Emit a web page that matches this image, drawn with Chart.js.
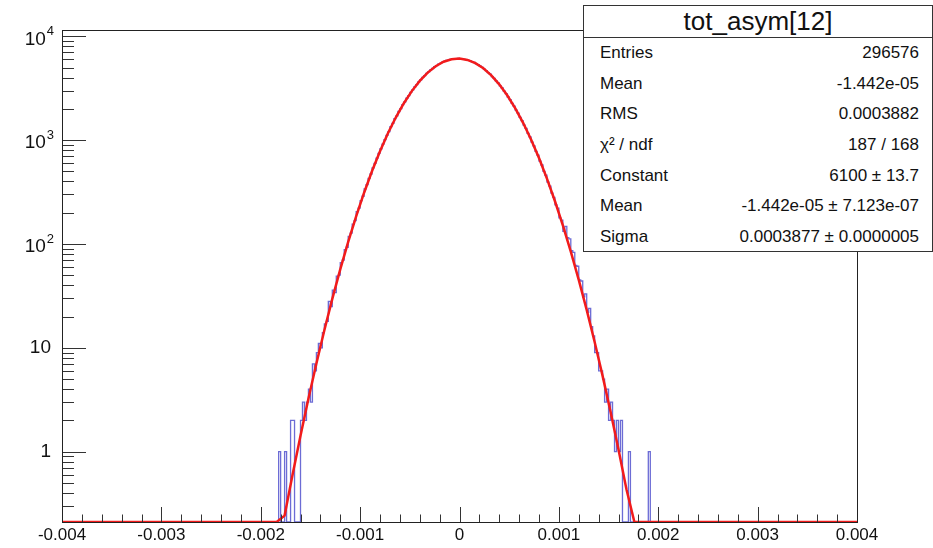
<!DOCTYPE html>
<html>
<head>
<meta charset="utf-8">
<script src="https://cdn.jsdelivr.net/npm/chart.js@4.4.1/dist/chart.umd.min.js"></script>
<style>
html,body{margin:0;padding:0;background:#fff;}
#wrap{position:relative;width:933px;height:548px;overflow:hidden;background:#fff;}
#c{position:absolute;left:0;top:0;}
#stats{position:absolute;left:583px;top:5px;width:350px;height:247px;box-sizing:border-box;border:1.5px solid #333;background:#fff;font-family:"Liberation Sans",Arial,Helvetica,sans-serif;color:#111;}
#stats .title{height:31px;line-height:31px;font-size:26px;text-align:center;border-bottom:1.5px solid #333;}
#stats .row{height:30.6px;display:flex;justify-content:space-between;align-items:center;padding:0 13px 0 16px;font-size:17px;}
</style>
</head>
<body>
<div id="wrap">
<canvas id="c" width="933" height="548"></canvas>
<div id="stats"></div>
</div>
<script>
// ---------------- data ----------------
const histXMin = -0.004;
const histXMax = 0.004;
const nBins = 400;
// bin contents (400 bins, width 2e-5)
const counts = [
  0,0,0,0,0,0,0,0,0,0, 0,0,0,0,0,0,0,0,0,0,
  0,0,0,0,0,0,0,0,0,0, 0,0,0,0,0,0,0,0,0,0,
  0,0,0,0,0,0,0,0,0,0, 0,0,0,0,0,0,0,0,0,0,
  0,0,0,0,0,0,0,0,0,0, 0,0,0,0,0,0,0,0,0,0,
  0,0,0,0,0,0,0,0,0,0, 0,0,0,0,0,0,0,0,0,0,
  0,0,0,0,0,0,0,0,0,
  1,0,0,1,0,0,2,2,0,0,
  0,2,3,2,3,4,3,7,6,9,
  11,10,14,17,18,28,25,36,34,49,
  50,66,70,88,93,118,127,155,168,205,
  221,262,288,339,372,428,472,540,596,670,
  745,826,914,1010,1112,1208,1352,1447,1608,1716,
  1886,2015,2197,2338,2531,2683,2890,3046,3262,3421,
  3641,3803,4024,4181,4398,4547,4757,4895,5090,5212,
  5390,5491,5645,5724,5852,5903,6001,6024,6091,6082,
  6115,6075,6078,6003,5972,5870,5811,5678,5592,5433,
  5325,5145,5018,4820,4679,4468,4315,4097,3938,3716,
  3555,3337,3178,2962,2810,2603,2458,2262,2127,1945,
  1822,1655,1544,1393,1296,1161,1074,956,882,779,
  716,628,576,501,459,394,361,309,281,238,
  221,178,170,132,148,115,112,86,83,62,
  61,45,44,31,33,22,24,16,13,9,
  9,6,6,5,3,4,2,3,2,1,
  2,1,2,0,0,0,1,0,0,0,
  0,0,0,0,0,0,1,
  0,0,0,0,0,0,0,0,0,0, 0,0,0,0,0,0,0,0,0,0,
  0,0,0,0,0,0,0,0,0,0, 0,0,0,0,0,0,0,0,0,0,
  0,0,0,0,0,0,0,0,0,0, 0,0,0,0,0,0,0,0,0,0,
  0,0,0,0,0,0,0,0,0,0, 0,0,0,0,0,0,0,0,0,0,
  0,0,0,0,0,0,0,0,0,0, 0,0,0,0,0,0,0,0,0,0,
  0,0,0,0
];

// Gaussian fit curve (red), sampled points
const fitX = [-0.004, -0.00184, -0.00176, -0.00168, -0.0016, -0.00152, -0.00144, -0.00136, -0.00128, -0.0012,
  -0.00112, -0.00104, -0.00096, -0.00088, -0.0008, -0.00072, -0.00064, -0.00056, -0.00048, -0.0004,
  -0.00032, -0.00024, -0.00016, -0.00008, 0, 0.00008, 0.00016, 0.00024, 0.00032, 0.0004,
  0.00048, 0.00056, 0.00064, 0.00072, 0.0008, 0.00088, 0.00096, 0.00104, 0.00112, 0.0012,
  0.00128, 0.00136, 0.00144, 0.00152, 0.0016, 0.00168, 0.00176, 0.004];
const fitY = [0, 0.0935, 0.242, 0.599, 1.424, 3.241, 7.07, 14.78, 29.61, 56.85,
  104.6, 184.4, 311.6, 504.6, 783.0, 1164.5, 1659.5, 2266.3, 2966.1, 3720.1,
  4471.1, 5150.0, 5684.8, 6013.4, 6095.8, 5921.7, 5512.9, 4918.4, 4204.9, 3445.2,
  2705.0, 2035.4, 1467.7, 1014.2, 671.6, 426.2, 259.2, 151.1, 84.37, 45.16,
  23.16, 11.38, 5.363, 2.421, 1.047, 0.434, 0.1725, 0];

const xTickValues = [-0.004, -0.003, -0.002, -0.001, 0, 0.001, 0.002, 0.003, 0.004];
const xTickLabels = ['-0.004', '-0.003', '-0.002', '-0.001', '0', '0.001', '0.002', '0.003', '0.004'];
const yTickValues = [1, 10, 100, 1000, 10000];
const yTickLabels = ['1', '10', '10^2', '10^3', '10^4'];
const yAxisMin = 0.21;
const yAxisMax = 11500;
const xMinorStep = 0.0002;

const statsTitle = 'tot_asym[12]';
const statLabels = ['Entries', 'Mean', 'RMS', 'χ² / ndf', 'Constant', 'Mean', 'Sigma'];
const statValues = ['296576', '-1.442e-05', '0.0003882', '187 / 168', '6100 ± 13.7', '-1.442e-05 ± 7.123e-07', '0.0003877 ± 0.0000005'];

// ---------------- stats box ----------------
const sb = document.getElementById('stats');
const t = document.createElement('div'); t.className = 'title'; t.textContent = statsTitle; sb.appendChild(t);
statLabels.forEach((l, i) => {
  const r = document.createElement('div'); r.className = 'row';
  const a = document.createElement('span'); a.textContent = l;
  const b = document.createElement('span'); b.textContent = statValues[i];
  r.appendChild(a); r.appendChild(b); sb.appendChild(r);
});

// ---------------- chart ----------------
const FONT = '"Liberation Sans", Arial, Helvetica, sans-serif';
// ROOT draws values below the axis floor on the floor
const clampY = v => Math.max(v, yAxisMin);
const binW = (histXMax - histXMin) / nBins;
const histPts = counts.map((c, i) => ({x: histXMin + i * binW, y: clampY(c)}));
histPts.push({x: histXMax, y: clampY(counts[nBins - 1])});
const fitPts = fitX.map((x, i) => ({x: x, y: clampY(fitY[i])}));

const rootAxes = {
  id: 'rootAxes',
  afterDatasetsDraw(chart) {
    const {ctx, chartArea: a} = chart;
    const xs = chart.scales.x, ys = chart.scales.y;
    ctx.save();
    ctx.strokeStyle = '#333';
    ctx.lineWidth = 1;
    ctx.beginPath();
    const nMinor = Math.round((xs.max - xs.min) / xMinorStep);
    for (let k = 0; k <= nMinor; k++) {
      const v = xs.min + k * xMinorStep;
      const px = Math.round(xs.getPixelForValue(v)) + 0.5;
      const len = (k % 5 === 0) ? 15 : 7.5;
      ctx.moveTo(px, a.bottom); ctx.lineTo(px, a.bottom - len);
    }
    for (let e = -1; e <= 4; e++) {
      for (let m = 1; m <= 9; m++) {
        const v = m * Math.pow(10, e);
        if (v < ys.min || v > ys.max) continue;
        const py = Math.round(ys.getPixelForValue(v)) + 0.5;
        const len = (m === 1) ? 24 : 12;
        ctx.moveTo(a.left, py); ctx.lineTo(a.left + len, py);
      }
    }
    ctx.stroke();
    ctx.strokeStyle = '#222';
    ctx.strokeRect(Math.round(a.left) + 0.5, Math.round(a.top) + 0.5, Math.round(a.right - a.left), Math.round(a.bottom - a.top));
    // y labels with exponents
    ctx.fillStyle = '#111';
    ctx.textBaseline = 'middle';
    const rightX = a.left - 11;
    yTickValues.forEach((v, i) => {
      const py = ys.getPixelForValue(v);
      const parts = yTickLabels[i].split('^');
      ctx.font = '19px ' + FONT;
      const wb = ctx.measureText(parts[0]).width;
      if (parts.length > 1) {
        ctx.font = '13px ' + FONT;
        const we = ctx.measureText(parts[1]).width;
        const rx = rightX + 3;
        ctx.font = '19px ' + FONT;
        ctx.textAlign = 'left';
        ctx.fillText(parts[0], rx - we - wb - 1, py + 3);
        ctx.font = '13px ' + FONT;
        ctx.fillText(parts[1], rx - we, py - 5);
      } else {
        ctx.textAlign = 'right';
        ctx.fillText(parts[0], rightX, py);
      }
    });
    ctx.restore();
  }
};

new Chart(document.getElementById('c'), {
  type: 'line',
  data: {
    datasets: [
      {label: 'fit', data: fitPts, borderColor: '#f21b1b', borderWidth: 2.5, pointRadius: 0, tension: 0, fill: false},
      {label: 'hist', data: histPts, stepped: 'before', borderColor: 'rgba(45,45,195,0.7)', borderWidth: 1.3, pointRadius: 0, fill: false}
    ]
  },
  options: {
    responsive: false,
    animation: false,
    devicePixelRatio: 1,
    layout: {padding: {left: 0, right: 76, top: 30, bottom: 0}},
    plugins: {legend: {display: false}, tooltip: {enabled: false}},
    scales: {
      x: {
        type: 'linear', min: histXMin, max: histXMax,
        grid: {display: false, drawTicks: false, tickLength: 0}, border: {display: false},
        afterBuildTicks: s => { s.ticks = xTickValues.map(v => ({value: v})); },
        afterFit: s => { s.height = 26; s.paddingLeft = 0; s.paddingRight = 0; },
        ticks: {autoSkip: false, maxRotation: 0, padding: 3, color: '#111', font: {family: FONT, size: 17},
          callback: (v, i) => xTickLabels[i]}
      },
      y: {
        type: 'logarithmic', min: yAxisMin, max: yAxisMax,
        grid: {display: false}, border: {display: false},
        afterBuildTicks: s => { s.ticks = yTickValues.map(v => ({value: v})); },
        afterFit: s => { s.width = 62; s.paddingTop = 0; s.paddingBottom = 0; },
        ticks: {display: false}
      }
    }
  },
  plugins: [rootAxes]
});
</script>
</body>
</html>
